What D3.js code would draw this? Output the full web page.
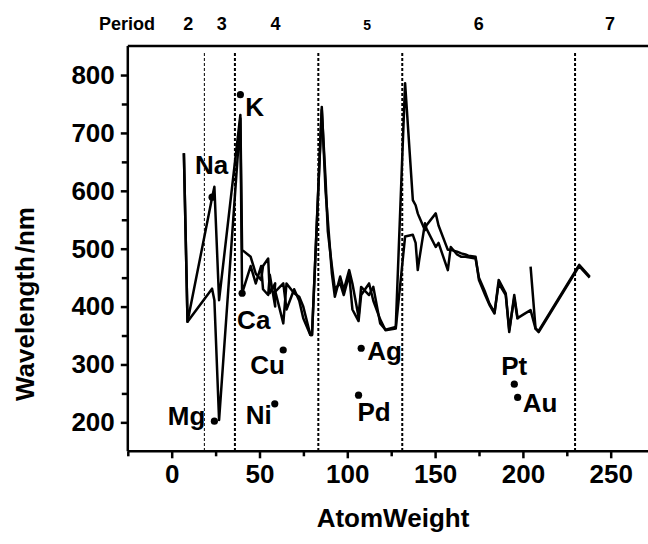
<!DOCTYPE html>
<html>
<head>
	<meta charset="UTF-8" />
	<title>Wavelength vs AtomWeight</title>
	<script src="https://cdn.jsdelivr.net/npm/d3@7/dist/d3.min.js"></script>
	<style>
		body { margin: 0; background: #fff; }
		svg text { font-family: "Liberation Sans", Arial, sans-serif; font-weight: bold; fill: #000; }
	</style>
</head>
<body>
<div id="chart"></div>
<script type="text/javascript">

// elements in order, with atomic weight
var elements = ["Li","Be","Na","Mg","Al","K","Ca","Sc","Ti","V","Cr","Mn","Fe","Co","Ni","Cu","Zn","Ga","Ge","As","Se","Br",
	"Rb","Sr","Y","Zr","Nb","Mo","Tc","Ru","Rh","Pd","Ag","Cd","In","Sn","Sb","Te",
	"Cs","Ba","La","Ce","Pr","Nd","Pm","Sm","Eu","Gd","Tb","Dy","Ho","Er","Tm","Yb","Lu","Hf","Ta","W","Re","Os","Ir","Pt","Au","Hg","Tl","Pb","Bi",
	"Th","U"];
var atomWeight = [6.94,9.01,22.99,24.31,26.98,39.10,40.08,44.96,47.87,50.94,52.00,54.94,55.85,58.93,58.69,63.55,65.38,69.72,72.63,74.92,78.97,79.90,
	85.47,87.62,88.91,91.22,92.91,95.95,98.0,101.07,102.91,106.42,107.87,112.41,114.82,118.71,121.76,127.60,
	132.91,137.33,138.91,140.12,140.91,144.24,145.0,150.36,151.96,157.25,158.93,162.50,164.93,167.26,168.93,173.05,174.97,178.49,180.95,183.84,186.21,190.23,192.22,195.08,196.97,200.59,204.38,207.2,208.98,
	232.04,238.03];
// two wavelength series (nm), null = no value
var seriesA = [665,374,588,607,411,731,498,486,457,446,470,483,423,440,430,371,440,423,417,400,351,351,
	745,600,549,457,417,452,429,463,440,382,434,420,434,371,360,365,
	786,584,575,561,555,532,540,561,540,498,498,495,492,490,488,486,446,420,403,388,446,423,356,420,380,387,394,362,358,
	472,452];
var seriesB = [665,374,431,411,204,725,423,470,440,470,430,420,455,400,425,440,395,430,410,380,351,351,
	740,620,530,470,430,440,420,455,395,375,420,440,410,378,359,362,
	521,524,510,463,480,544,535,503,510,463,503,490,486,486,485,483,450,425,405,390,440,420,360,415,378,null,469,362,356,
	470,450];

// resonance lines marked with dots
var markNames = ["Na","K","Mg","Ca","Cu","Ni","Ag","Pd","Pt","Au"];
var markWeight = [23.0,39.1,24.3,40.1,63.5,58.7,107.9,106.4,195.1,197.0];
var markWave = [589,766,202,423,325,232,328,247,266,243];

// period boundaries and labels
var periodLines = [18.6,36,83.5,131.3,229.7];
var periodNames = ["2","3","4","5","6","7"];
var periodAt = [9.4,28.5,59.1,111.3,174.8,249.6];

var xMajor = [0,50,100,150,200,250];
var xMinor = [-25,25,75,125,175,225];
var yMajor = [200,300,400,500,600,700,800];
var yMinor = [250,350,450,550,650,750];

// label offsets in px from each dot
var labelOff = {
	Na:[-17,-23,"start"], K:[5,21,"start"], Mg:[-9,4,"end"], Ca:[-5,36,"start"], Cu:[-33,24,"start"],
	Ni:[-29,20,"start"], Ag:[6,12,"start"], Pd:[-1,26,"start"], Pt:[-13,-9,"start"], Au:[5,15,"start"]
};

var W = 648, H = 544;
var x = d3.scaleLinear().domain([-25,275]).range([127.8,654.6]);
var y = d3.scaleLinear().domain([150,850]).range([451.3,46.1]);

var svg = d3.select("#chart").append("svg").attr("width",W).attr("height",H);

// frame: top line, left and bottom axes
svg.append("line").attr("x1",x(-25)).attr("x2",W).attr("y1",y(850)).attr("y2",y(850))
	.attr("stroke","#000").attr("stroke-width",2.5);

var xAxis = svg.append("g").attr("transform","translate(0,"+y(150)+")")
	.call(d3.axisBottom(x).tickValues(xMajor).tickSize(7).tickSizeOuter(0).tickPadding(6));
xAxis.select(".domain").attr("d","M"+x(-25)+",0H"+W).attr("stroke-width",2.5);
xAxis.selectAll(".tick line").attr("stroke-width",2.5);
xAxis.selectAll(".tick text").style("font-size","26px");
var xMin = svg.append("g").attr("transform","translate(0,"+y(150)+")")
	.call(d3.axisBottom(x).tickValues(xMinor).tickSize(5).tickFormat(""));
xMin.select(".domain").remove();
xMin.selectAll(".tick line").attr("stroke-width",2.5);

var yAxis = svg.append("g").attr("transform","translate("+x(-25)+",0)")
	.call(d3.axisLeft(y).tickValues(yMajor).tickSize(7).tickSizeOuter(0).tickPadding(6));
yAxis.select(".domain").attr("d","M0,"+y(850)+"V"+y(150)).attr("stroke-width",2.5);
yAxis.selectAll(".tick line").attr("stroke-width",2.5);
yAxis.selectAll(".tick text").style("font-size","26px");
var yMin = svg.append("g").attr("transform","translate("+x(-25)+",0)")
	.call(d3.axisLeft(y).tickValues(yMinor).tickSize(6).tickFormat(""));
yMin.select(".domain").remove();
yMin.selectAll(".tick line").attr("stroke-width",2.5);

// axis titles
svg.append("text").attr("x",393).attr("y",527).attr("text-anchor","middle")
	.style("font-size","26px").text("AtomWeight");
svg.append("text").attr("transform","translate(34,401) rotate(-90)").attr("text-anchor","start")
	.style("font-size","26px").text("Wavelength");
svg.append("text").attr("transform","translate(34,207) rotate(-90)").attr("text-anchor","end")
	.style("font-size","26px").text("/nm");

// period separators
svg.selectAll(".period").data(periodLines).enter().append("line")
	.attr("x1",function(d){return x(d);}).attr("x2",function(d){return x(d);})
	.attr("y1",53).attr("y2",y(152))
	.attr("stroke","#000")
	.attr("stroke-width",function(d,i){return i==0 ? 1 : 2;})
	.attr("stroke-dasharray","3,2");

svg.append("text").attr("x",155).attr("y",29.5).attr("text-anchor","end")
	.style("font-size","18px").text("Period");
svg.selectAll(".plab").data(periodNames).enter().append("text")
	.attr("x",function(d,i){return x(periodAt[i]);}).attr("y",29.5)
	.attr("text-anchor","middle")
	.style("font-size",function(d){return d=="5" ? "14px" : "18px";})
	.text(function(d){return d;});

// the two curves
var line = d3.line()
	.defined(function(d){return d[1] != null;})
	.x(function(d){return x(d[0]);})
	.y(function(d){return y(d[1]);});
[seriesA, seriesB].forEach(function(s){
	var pts = atomWeight.map(function(w,i){return [w, s[i]];});
	svg.append("path").attr("d",line(pts))
		.attr("fill","none").attr("stroke","#000")
		.attr("stroke-width",2.5).attr("stroke-linejoin","round");
});

// dots and element names
markNames.forEach(function(n,i){
	var cx = x(markWeight[i]), cy = y(markWave[i]);
	svg.append("circle").attr("cx",cx).attr("cy",cy).attr("r",3.6).attr("fill","#000");
	var o = labelOff[n];
	svg.append("text").attr("x",cx+o[0]).attr("y",cy+o[1]).attr("text-anchor",o[2])
		.style("font-size","26px").text(n);
});

</script>
</body>
</html>
